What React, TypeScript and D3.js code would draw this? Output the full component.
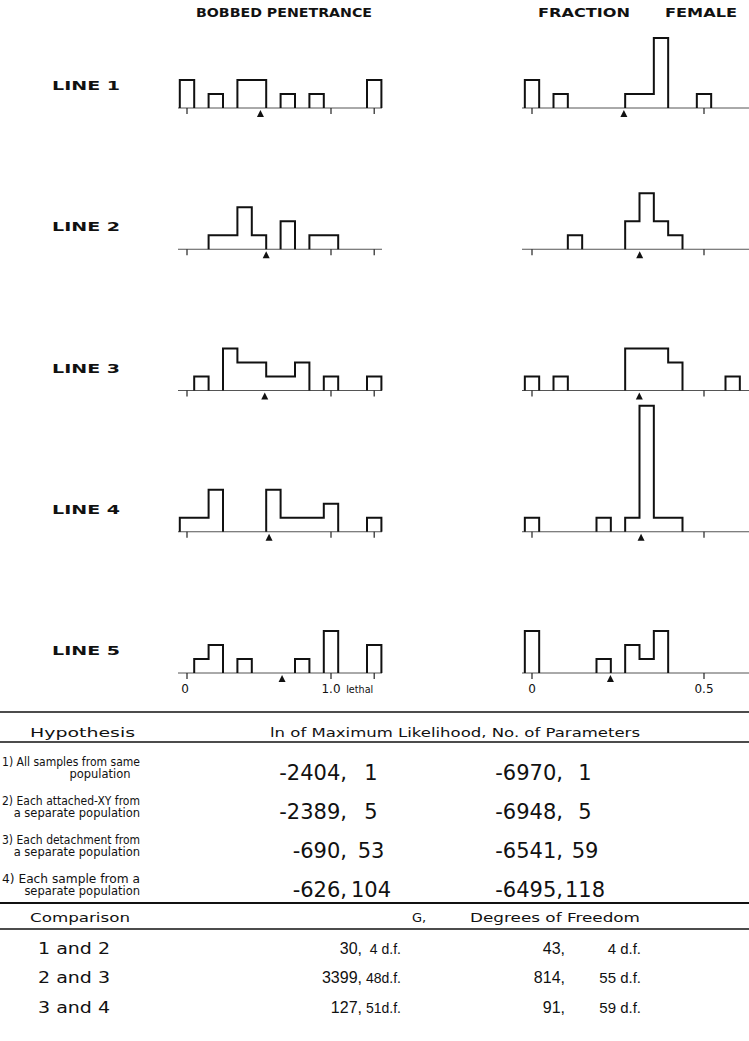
import React from 'react';
import * as d3 from 'd3';

// --- histogram data (counts per bin) ---
const LINES = ['LINE 1', 'LINE 2', 'LINE 3', 'LINE 4', 'LINE 5'];

// bobbed penetrance bins: 0 .. 1.0 in steps of 0.1, then two empty slots and "lethal" (1.3)
const PEN_BINS = [0, 0.1, 0.2, 0.3, 0.4, 0.5, 0.6, 0.7, 0.8, 0.9, 1.0, 1.1, 1.2, 1.3];
const PEN_COUNTS = [
    [2, 0, 1, 0, 2, 2, 0, 1, 0, 1, 0, 0, 0, 2],
    [0, 0, 1, 1, 3, 1, 0, 2, 0, 1, 1, 0, 0, 0],
    [0, 1, 0, 3, 2, 2, 1, 1, 2, 0, 1, 0, 0, 1],
    [1, 1, 3, 0, 0, 0, 3, 1, 1, 1, 2, 0, 0, 1],
    [0, 1, 2, 0, 1, 0, 0, 0, 1, 0, 3, 0, 0, 2],
];
const PEN_MEANS = [0.51, 0.55, 0.54, 0.57, 0.66];
const PEN_TICKS = [0, 1.0, 1.3];

// fraction female bins, width 1/24
const FEM_BINS = [0, 1 / 24, 2 / 24, 3 / 24, 4 / 24, 5 / 24, 6 / 24, 7 / 24, 8 / 24, 9 / 24, 10 / 24, 11 / 24, 12 / 24, 13 / 24, 14 / 24, 15 / 24];
const FEM_COUNTS = [
    [2, 0, 1, 0, 0, 0, 0, 1, 1, 5, 0, 0, 1, 0, 0, 0],
    [0, 0, 0, 1, 0, 0, 0, 2, 4, 2, 1, 0, 0, 0, 0, 0],
    [1, 0, 1, 0, 0, 0, 0, 3, 3, 3, 2, 0, 0, 0, 1, 0],
    [1, 0, 0, 0, 0, 1, 0, 1, 9, 1, 1, 0, 0, 0, 0, 0],
    [3, 0, 0, 0, 0, 1, 0, 2, 1, 3, 0, 0, 0, 0, 0, 0],
];
const FEM_MEANS = [0.267, 0.313, 0.312, 0.317, 0.228];
const FEM_TICKS = [0, 0.5];

// --- table data ---
const HYPOTHESES = [
    ['1) All samples from same', 'population'],
    ['2) Each attached-XY from', 'a separate population'],
    ['3) Each detachment from', 'a separate population'],
    ['4) Each sample from a', 'separate population'],
];
const PEN_LNL = ['-2404,', '-2389,', '-690,', '-626,'];
const PEN_PARAMS = ['1', '5', '53', '104'];
const FEM_LNL = ['-6970,', '-6948,', '-6541,', '-6495,'];
const FEM_PARAMS = ['1', '5', '59', '118'];

const COMPARISONS = ['1 and 2', '2 and 3', '3 and 4'];
const PEN_G = ['30,', '3399,', '127,'];
const PEN_DF = ['4 d.f.', '48d.f.', '51d.f.'];
const FEM_G = ['43,', '814,', '91,'];
const FEM_DF = ['4 d.f.', '55 d.f.', '59 d.f.'];

const FONT = "'DejaVu Sans', Verdana, sans-serif";
const NARROW = "'Liberation Sans', Arial, sans-serif";
const W = 749;
const H = 1041;

type Seg = { x0: number; x1: number; c: number };

function runs(centers: number[], counts: number[], half: number, x: d3.ScaleLinear<number, number>): Seg[][] {
    const out: Seg[][] = [];
    let cur: Seg[] | null = null;
    counts.forEach((c, i) => {
        if (c > 0) {
            if (!cur) { cur = []; out.push(cur); }
            cur.push({ x0: x(centers[i] - half), x1: x(centers[i] + half), c });
        } else cur = null;
    });
    return out;
}

const App: React.FC = () => {
    const xPen = d3.scaleLinear().domain([0, 1]).range([187, 331]);
    const xFem = d3.scaleLinear().domain([0, 0.5]).range([532, 704]);
    const yLine = d3.scaleLinear().domain([0, 4]).range([108, 673]);
    const hCount = d3.scaleLinear().domain([0, 1]).range([0, 14]);
    const line = d3.line<[number, number]>();

    const outline = (seg: Seg[], base: number) => {
        const pts: [number, number][] = [[seg[0].x0, base]];
        seg.forEach(s => { pts.push([s.x0, base - hCount(s.c)]); pts.push([s.x1, base - hCount(s.c)]); });
        pts.push([seg[seg.length - 1].x1, base]);
        return line(pts) || '';
    };
    const tri = (x: number, b: number) => `M${x},${b + 2}L${x - 3.5},${b + 9}L${x + 3.5},${b + 9}Z`;

    const panel = (
        i: number,
        x: d3.ScaleLinear<number, number>,
        bins: number[],
        counts: number[],
        half: number,
        mean: number,
        ticks: number[],
        x0: number,
        x1: number,
    ) => {
        const b = yLine(i);
        return (
            <g>
                <line x1={x0} x2={x1} y1={b} y2={b} stroke="#555" strokeWidth={1} />
                {ticks.map(t => (
                    <line key={t} x1={x(t)} x2={x(t)} y1={b} y2={b + 6} stroke="#222" strokeWidth={1.2} />
                ))}
                {runs(bins, counts, half, x).map((seg, k) => (
                    <path key={k} d={outline(seg, b)} fill="none" stroke="#111" strokeWidth={2} strokeLinejoin="miter" />
                ))}
                <path d={tri(x(mean), b)} fill="#111" />
            </g>
        );
    };

    const hypY = [766, 805, 844, 883];
    const cmpY = [954, 983, 1013];

    return (
        <div style={{ position: 'absolute', left: 0, top: 0 }}>
            <svg width={W} height={H} viewBox={`0 0 ${W} ${H}`} style={{ display: 'block', background: '#fff' }} fontFamily={FONT}>
                {/* titles */}
                <text x={196} y={17} fontSize={12} fontWeight="bold" textLength={176} lengthAdjust="spacingAndGlyphs" fill="#111">BOBBED PENETRANCE</text>
                <text x={538} y={17} fontSize={12} fontWeight="bold" textLength={92} lengthAdjust="spacingAndGlyphs" fill="#111">FRACTION</text>
                <text x={665} y={17} fontSize={12} fontWeight="bold" textLength={72} lengthAdjust="spacingAndGlyphs" fill="#111">FEMALE</text>

                {LINES.map((name, i) => (
                    <g key={name}>
                        <text x={52} y={yLine(i) - 18} fontSize={13} fontWeight="bold" textLength={68} lengthAdjust="spacingAndGlyphs" fill="#111">{name}</text>
                        {panel(i, xPen, PEN_BINS, PEN_COUNTS[i], 0.05, PEN_MEANS[i], PEN_TICKS, 178, 382)}
                        {panel(i, xFem, FEM_BINS, FEM_COUNTS[i], 1 / 48, FEM_MEANS[i], FEM_TICKS, 522, W)}
                    </g>
                ))}

                {/* axis labels */}
                <g fontSize={12} fill="#111">
                    <text x={xPen(0) - 2} y={693} textAnchor="middle">0</text>
                    <text x={xPen(1)} y={693} textAnchor="middle" textLength={19} lengthAdjust="spacingAndGlyphs">1.0</text>
                    <text x={xPen(1.3) - 28} y={693} fontSize={11} textLength={27} lengthAdjust="spacingAndGlyphs">lethal</text>
                    <text x={xFem(0)} y={693} textAnchor="middle">0</text>
                    <text x={xFem(0.5)} y={693} textAnchor="middle">0.5</text>
                </g>

                {/* table */}
                <g stroke="#111">
                    <line x1={0} x2={W} y1={712} y2={712} strokeWidth={1.5} />
                    <line x1={0} x2={W} y1={742} y2={742} strokeWidth={1.5} />
                    <line x1={0} x2={W} y1={903} y2={903} strokeWidth={2} />
                    <line x1={0} x2={W} y1={929} y2={929} strokeWidth={1.5} />
                </g>
                <g fill="#111">
                    <text x={30} y={737} fontSize={13} textLength={105} lengthAdjust="spacingAndGlyphs">Hypothesis</text>
                    <text x={270} y={737} fontSize={13} textLength={370} lengthAdjust="spacingAndGlyphs">ln of Maximum Likelihood, No. of Parameters</text>

                    {HYPOTHESES.map((h, i) => (
                        <g key={i}>
                            <text x={2} y={hypY[i]} fontSize={11.5} textLength={138} lengthAdjust="spacingAndGlyphs">{h[0]}</text>
                            <text x={i === 0 ? 100 : 140} y={hypY[i] + 12} fontSize={11.5} textAnchor={i === 0 ? 'middle' : 'end'}>{h[1]}</text>
                            <text x={347} y={hypY[i] + 14} fontSize={21} textAnchor="end">{PEN_LNL[i]}</text>
                            <text x={371} y={hypY[i] + 14} fontSize={21} textAnchor="middle">{PEN_PARAMS[i]}</text>
                            <text x={563} y={hypY[i] + 14} fontSize={21} textAnchor="end">{FEM_LNL[i]}</text>
                            <text x={585} y={hypY[i] + 14} fontSize={21} textAnchor="middle">{FEM_PARAMS[i]}</text>
                        </g>
                    ))}

                    <text x={30} y={922} fontSize={13} textLength={100} lengthAdjust="spacingAndGlyphs">Comparison</text>
                    <text x={412} y={922} fontSize={13}>G,</text>
                    <text x={470} y={922} fontSize={13} textLength={170} lengthAdjust="spacingAndGlyphs">Degrees of Freedom</text>

                    {COMPARISONS.map((c, i) => (
                        <g key={c}>
                            <text x={38} y={cmpY[i]} fontSize={15} textLength={72} lengthAdjust="spacingAndGlyphs">{c}</text>
                            <text x={362} y={cmpY[i]} fontSize={16} fontFamily={NARROW} textAnchor="end">{PEN_G[i]}</text>
                            <text x={401} y={cmpY[i]} fontSize={14} fontFamily={NARROW} textAnchor="end">{PEN_DF[i]}</text>
                            <text x={565} y={cmpY[i]} fontSize={16} fontFamily={NARROW} textAnchor="end">{FEM_G[i]}</text>
                            <text x={641} y={cmpY[i]} fontSize={15} fontFamily={NARROW} textAnchor="end">{FEM_DF[i]}</text>
                        </g>
                    ))}
                </g>
            </svg>
        </div>
    );
};

export default App;
